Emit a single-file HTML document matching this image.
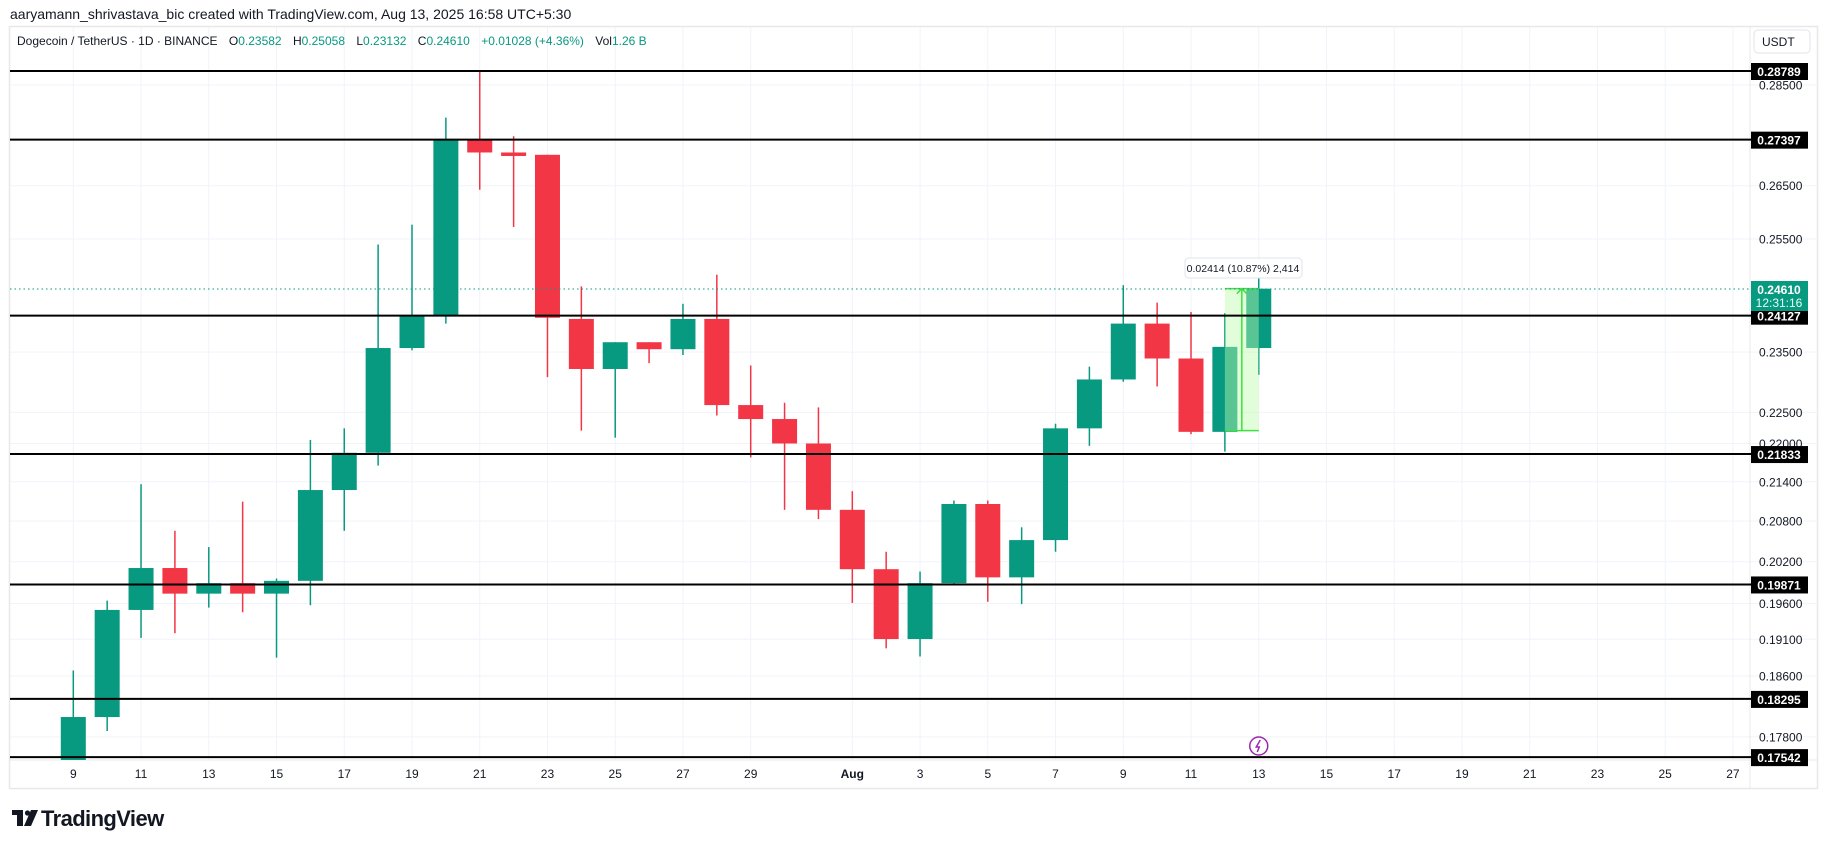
<!DOCTYPE html>
<html><head><meta charset="utf-8"><style>
html,body{margin:0;padding:0;background:#fff;width:1825px;height:849px;overflow:hidden;font-family:"Liberation Sans",sans-serif}
#hd{position:absolute;left:17px;top:34px;font-size:12px;color:#131722;white-space:nowrap;z-index:2}
#hd span{margin-right:8px}#hd b{font-weight:normal;color:#089981}
</style></head><body>
<svg id="s" width="1825" height="849" xmlns="http://www.w3.org/2000/svg" style="position:absolute;left:0;top:0">
<text x="10" y="19" font-size="14" fill="#131722">aaryamann_shrivastava_bic created with TradingView.com, Aug 13, 2025 16:58 UTC+5:30</text>
<rect x="9.5" y="26.5" width="1808" height="762" fill="none" stroke="#e8e8e8" stroke-width="1.5"/>
<g id="g"></g>
</svg>
<div id="hd"><span>Dogecoin / TetherUS · 1D · BINANCE</span> <span>O<b>0.23582</b></span> <span>H<b>0.25058</b></span> <span>L<b>0.23132</b></span> <span>C<b>0.24610</b></span> <span><b>+0.01028 (+4.36%)</b></span> <span>Vol<b>1.26 B</b></span></div>
<script>
var g=document.getElementById('g'),h='';
var K=1.164;
function Y(p){return 71+(Math.log(0.28789)-Math.log(p))*1385;}
function X(d){return 73.3+33.87*d;}
var ticks=[0.285,0.265,0.255,0.235,0.225,0.22,0.214,0.208,0.202,0.196,0.191,0.186,0.178];
ticks.forEach(function(t){h+='<line x1="10" x2="1818" y1="'+Y(t)+'" y2="'+Y(t)+'" stroke="#f0f3fa" stroke-width="1"/>';});
var labs=['9','11','13','15','17','19','21','23','25','27','29','Aug','3','5','7','9','11','13','15','17','19','21','23','25','27'];
var days=[0,2,4,6,8,10,12,14,16,18,20,23,25,27,29,31,33,35,37,39,41,43,45,47,49];
days.forEach(function(d,i){var x=X(d);h+='<line x1="'+x+'" x2="'+x+'" y1="27" y2="760" stroke="#f0f3fa"/>';
h+='<text x="'+x+'" y="778" font-size="12" fill="#131722" text-anchor="middle"'+(labs[i]=='Aug'?' font-weight="bold"':'')+'>'+labs[i]+'</text>';});
h+='<line x1="1750" x2="1750" y1="27" y2="789" stroke="#e8e8e8"/>';
h+='<line x1="10" x2="1818" y1="760" y2="760" stroke="#e8e8e8"/>';
var c=[[616,660,576,660,1],[524,616,516,628,1],[488,524,416,548,1],[488,510,456,544,0],[501,510,470,522,1],[501,510,431,526,0],[499,510,497,565,1],[421,499,378,520,1],[389,421,368,456,1],[299,389,210,400,1],[271,299,193,301,1],[120,271,101,278,1],[120,131,61,163,0],[131,134,117,195,0],[133,273,133,324,0],[274,317,246,370,0],[294,317,294,376,1],[294,300,294,312,0],[274,300,261,305,1],[274,348,236,357,0],[348,360,314,393,0],[360,381,346,438,0],[381,438,350,446,0],[438,489,422,518,0],[489,549,474,557,0],[501,549,491,564,1],[433,501,430,503,1],[433,496,430,517,0],[464,496,453,519,1],[368,464,364,474,1],[326,368,315,383,1],[278,326,245,328,1],[278,308,260,332,0],[308,371,268,373,0],[298,371,269,388,1],[248,299,238,322,1]];
var cand='';
c.forEach(function(v,d){var col=v[4]?'#089981':'#f23645';var x=X(d);
var bt=Math.max(v[0]*K,27),bb=Math.min(v[1]*K,760),wt=v[2]*K,wb=Math.min(v[3]*K,760);
cand+='<line x1="'+x+'" x2="'+x+'" y1="'+wt+'" y2="'+wb+'" stroke="'+col+'" stroke-width="1.5"/>';
cand+='<rect x="'+(x-12.5)+'" y="'+bt+'" width="25" height="'+Math.max(bb-bt,2)+'" fill="'+col+'"/>';});
var mx1=X(34),mx2=X(35),my1=248*K,my2=370*K;
var meas='<rect x="'+mx1+'" y="'+my1+'" width="'+(mx2-mx1)+'" height="'+(my2-my1)+'" fill="rgba(190,250,170,0.45)"/>'+
'<line x1="'+mx1+'" x2="'+mx2+'" y1="'+my1+'" y2="'+my1+'" stroke="#3fe03f" stroke-width="1.5"/>'+
'<line x1="'+mx1+'" x2="'+mx2+'" y1="'+my2+'" y2="'+my2+'" stroke="#3fe03f" stroke-width="1.5"/>'+
'<line x1="'+(mx1+mx2)/2+'" x2="'+(mx1+mx2)/2+'" y1="'+my1+'" y2="'+my2+'" stroke="#3fe03f" stroke-width="1.5"/>'+
'<polyline points="'+((mx1+mx2)/2-5)+','+(my1+5)+' '+(mx1+mx2)/2+','+my1+' '+((mx1+mx2)/2+5)+','+(my1+5)+'" fill="none" stroke="#3fe03f" stroke-width="1.5"/>';
h+=cand+meas;
h+='<rect x="1185" y="258" width="117" height="20" rx="4" fill="#fff" stroke="#e0e3eb"/><text x="1243" y="272" font-size="10.5" fill="#131722" text-anchor="middle">0.02414 (10.87%) 2,414</text>';
h+='<line x1="10" x2="1750" y1="289" y2="289" stroke="#089981" stroke-width="1" stroke-dasharray="1.5,3"/>';
var lv=[['0.28789',0.28789],['0.27397',0.27397],['0.24127',0.24127],['0.21833',0.21833],['0.19871',0.19871],['0.18295',0.18295],['0.17542',0.17542]];
ticks.forEach(function(t){h+='<text x="1759" y="'+(Y(t)+4.5)+'" font-size="12" fill="#131722">'+t.toFixed(5)+'</text>';});
lv.forEach(function(l){var y=Y(l[1]);h+='<line x1="10" x2="1752" y1="'+y+'" y2="'+y+'" stroke="#000" stroke-width="2"/>';
h+='<rect x="1751" y="'+(y-8)+'" width="57" height="17" fill="#000"/><text x="1779" y="'+(y+5)+'" font-size="12" font-weight="bold" fill="#fff" text-anchor="middle">'+l[0]+'</text>';});
h+='<rect x="1751" y="281" width="57" height="30" fill="#089981"/><text x="1779" y="294" font-size="12" font-weight="bold" fill="#fff" text-anchor="middle">0.24610</text><text x="1779" y="307" font-size="12" fill="#e8fff8" text-anchor="middle">12:31:16</text>';
h+='<rect x="1754" y="30" width="56" height="23" rx="4" fill="#fff" stroke="#e0e3eb"/><text x="1762" y="46" font-size="12" fill="#131722">USDT</text>';
var fx=X(35);h+='<circle cx="'+fx+'" cy="746" r="9" fill="#fff" stroke="#9c27b0" stroke-width="1.5"/><path d="M'+(fx+1.5)+' 740 L'+(fx-2.5)+' 747 L'+(fx+0.5)+' 747 L'+(fx-1.5)+' 752" fill="none" stroke="#9c27b0" stroke-width="1.5"/>';
h+='<g fill="#131722"><rect x="12" y="810" width="11" height="5"/><rect x="17" y="810" width="6" height="16"/><circle cx="27.5" cy="813" r="2.6"/><path d="M31 810 L38 810 L31 826 L24 826 Z"/></g><text x="41" y="826" font-size="22" font-weight="bold" fill="#131722" letter-spacing="-0.6">TradingView</text>';
g.innerHTML=h;
</script>
</body></html>
